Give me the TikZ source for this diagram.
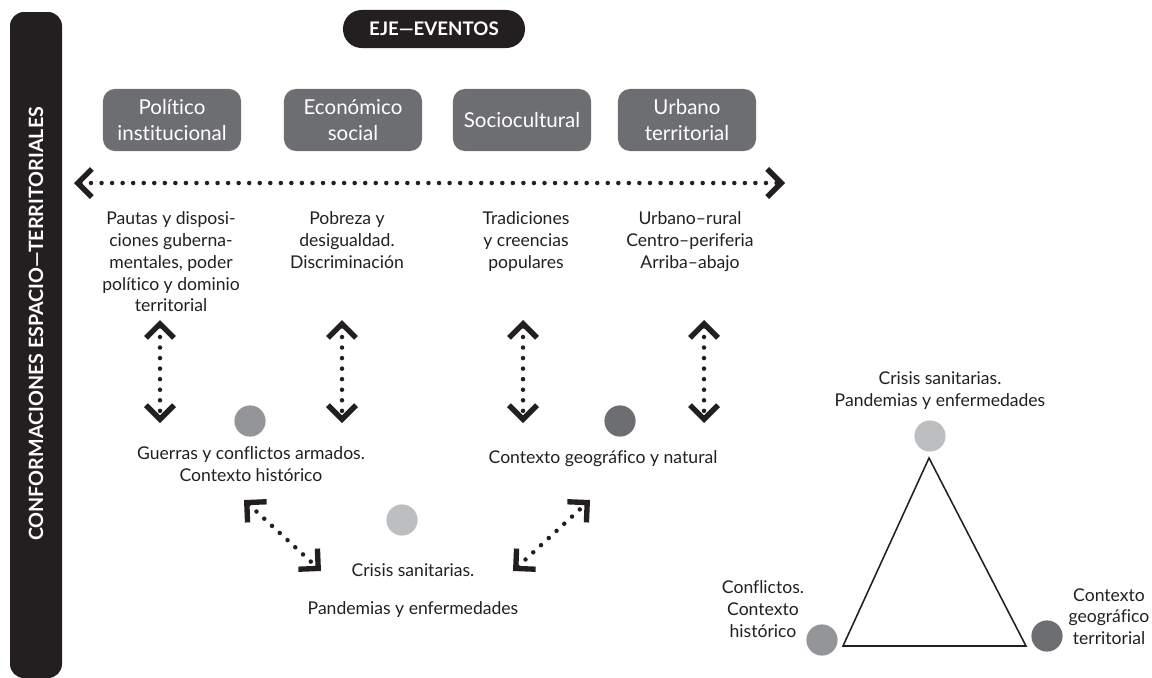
\documentclass[tikz,border=0pt]{standalone}
\usepackage{fontspec}
\setmainfont{Lato}[Ligatures={TeX,NoCommon}]
\usepackage{xcolor}
\definecolor{tinta}{RGB}{35,31,32}
\definecolor{grisoscuro}{RGB}{109,110,113}
\definecolor{grismedio}{RGB}{147,149,152}
\definecolor{grisclaro}{RGB}{188,190,192}
\usetikzlibrary{arrows.meta}
\newcommand{\anchotema}{3.45cm}
\newcommand{\altotema}{1.55cm}
\newcommand{\diampunto}{0.78cm}
\tikzset{
    chevron/.tip={Straight Barb[length=10pt, width=20pt, line width=3.8pt]},
    etiqueta/.style={text=white, font=\bfseries\fontsize{13.3}{15}\selectfont},
    tema/.style={fill=grisoscuro, text=white, rounded corners=0.3cm, minimum width=\anchotema,
        minimum height=\altotema, align=center, font=\fontsize{14.6}{18.4}\selectfont},
    nota/.style={text=tinta, align=center, inner sep=0pt, font=\fontsize{12.5}{15.6}\selectfont},
    punto/.style={circle, minimum size=\diampunto, inner sep=0pt},
    vinculo/.style={chevron-chevron, draw=tinta, line width=3.2pt, line cap=round,
        dash pattern=on 0pt off 7.5pt}
}
\begin{document}
\begin{tikzpicture}[x=0.025cm, y=-0.025cm]
    \useasboundingbox (0,0) rectangle (1152,678);

    % barra lateral y eje superior
    \fill[tinta, rounded corners=0.35cm] (10,12) rectangle (62,678);
    \node[etiqueta, font=\bfseries\fontsize{14}{16}\selectfont, rotate=90] (conformaciones) at (36,324)
        {CONFORMACIONES ESPACIO---TERRITORIALES};
    \node[etiqueta, fill=tinta, rounded corners=0.47cm, minimum width=4.55cm, minimum height=0.95cm]
        (eventos) at (434,29) {EJE---EVENTOS};

    % ejes tematicos
    \node[tema] (politico) at (172,120) {Político\\institucional};
    \node[tema] (economico) at (353,120) {Económico\\social};
    \node[tema] (sociocultural) at (522,120) {Sociocultural};
    \node[tema] (urbano) at (687,120) {Urbano\\territorial};

    \coordinate (eje-izq) at (74,183);
    \coordinate (eje-der) at (785,183);
    \draw[vinculo] (eje-izq) -- (eje-der);

    \node[nota, anchor=north] (pautas) at (171,211)
        {Pautas y disposi-\\ciones guberna-\\mentales, poder\\político y dominio\\territorial};
    \node[nota, anchor=north] (pobreza) at (347,211) {Pobreza y\\desigualdad.\\Discriminación};
    \node[nota, anchor=north] (tradiciones) at (526,211) {Tradiciones\\y creencias\\populares};
    \node[nota, anchor=north] (urbanorural) at (690,211) {Urbano--rural\\Centro--periferia\\Arriba--abajo};

    \coordinate (v1-sup) at (160,320);  \coordinate (v1-inf) at (160,423);
    \coordinate (v2-sup) at (342,320);  \coordinate (v2-inf) at (342,423);
    \coordinate (v3-sup) at (523,320);  \coordinate (v3-inf) at (523,423);
    \coordinate (v4-sup) at (704,320);  \coordinate (v4-inf) at (704,423);
    \draw[vinculo] (v1-sup) -- (v1-inf);
    \draw[vinculo] (v2-sup) -- (v2-inf);
    \draw[vinculo] (v3-sup) -- (v3-inf);
    \draw[vinculo] (v4-sup) -- (v4-inf);

    % eventos
    \node[punto, fill=grismedio] (p-guerras) at (250,421) {};
    \node[punto, fill=grisoscuro] (p-geo) at (620,421) {};
    \node[punto, fill=grisclaro] (p-crisis) at (402,520) {};

    \node[nota, anchor=north] (guerras) at (251,446) {Guerras y conflictos armados.\\Contexto histórico};
    \node[nota, anchor=north] (geografico) at (603,450) {Contexto geográfico y natural};
    \node[nota, anchor=north] (crisis) at (413,563) {Crisis sanitarias.};
    \node[nota, anchor=north] (pandemias) at (413,601) {Pandemias y enfermedades};

    \coordinate (d1-sup) at (244,500);  \coordinate (d1-inf) at (321,571);
    \coordinate (d2-inf) at (513,571);  \coordinate (d2-sup) at (590,500);
    \draw[vinculo] (d1-sup) -- (d1-inf);
    \draw[vinculo] (d2-inf) -- (d2-sup);

    % triangulo
    \coordinate (cima) at (929,458);
    \coordinate (base-izq) at (843,646);
    \coordinate (base-der) at (1026,646);
    \draw[tinta, line width=1.1pt, line join=miter] (cima) -- (base-izq) -- (base-der) -- cycle;

    \node[punto, fill=grisclaro] (t-crisis) at (930,436) {};
    \node[punto, fill=grismedio] (t-conflictos) at (822,640) {};
    \node[punto, fill=grisoscuro] (t-contexto) at (1047,636) {};

    \node[nota, anchor=north] (t-crisis-texto) at (940,371) {Crisis sanitarias.\\Pandemias y enfermedades};
    \node[nota, anchor=north] (t-conflictos-texto) at (763,580) {Conflictos.\\Contexto\\histórico};
    \node[nota, anchor=north] (t-contexto-texto) at (1109,588) {Contexto\\geográfico\\territorial};
\end{tikzpicture}
\end{document}
